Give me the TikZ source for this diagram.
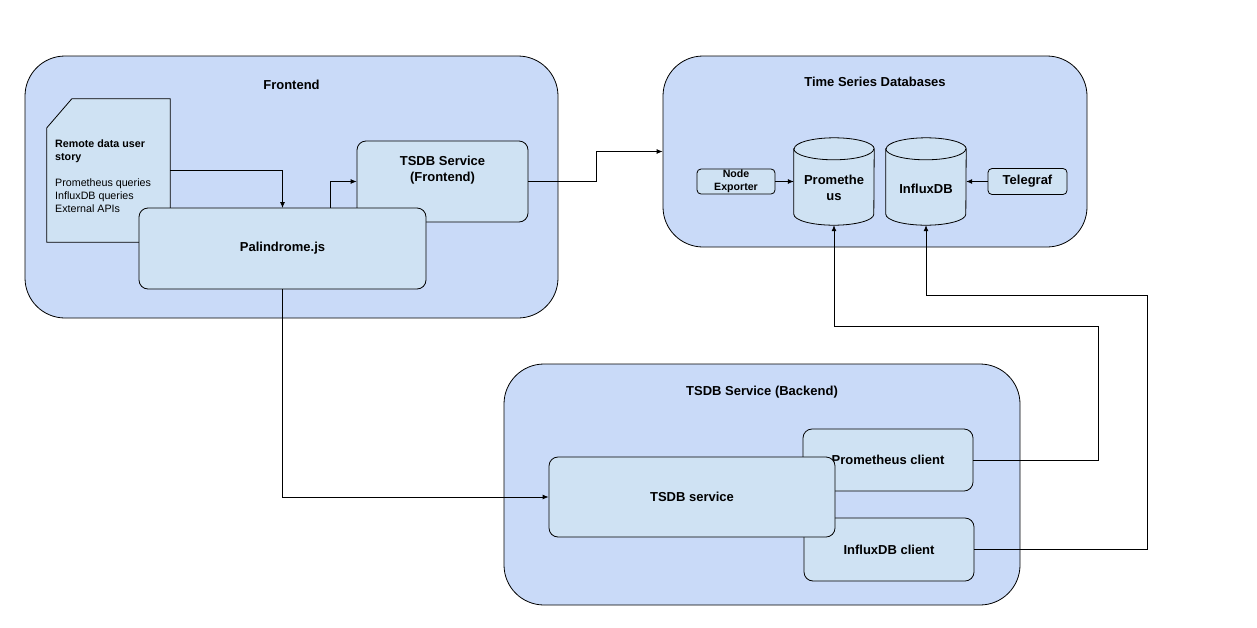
\documentclass[tikz,border=0pt]{standalone}
\usepackage{fontspec}
\setmainfont{Liberation Sans}
\usetikzlibrary{arrows.meta,calc}
\definecolor{contfill}{HTML}{C9DAF8}
\definecolor{boxfill}{HTML}{CFE2F3}
\newcommand\dbcyl[1]{%
  \draw[line width=0.8pt, fill=boxfill]
    ([yshift=-11pt]#1.north west) -- ([yshift=11pt]#1.south west)
    arc[start angle=180,end angle=360,x radius=40pt,y radius=11pt]
    -- ([yshift=-11pt]#1.north east)
    arc[start angle=0,end angle=180,x radius=40pt,y radius=11pt] -- cycle;
  \draw[line width=0.8pt] ([yshift=-11pt]#1.north west)
    arc[start angle=180,end angle=360,x radius=40pt,y radius=11pt];}
\begin{document}
\begin{tikzpicture}[x=1pt,y=-1pt,
  container/.style={draw=black, fill=contfill, rounded corners=40pt, line width=0.8pt, inner sep=0pt},
  box/.style={draw=black, fill=boxfill, rounded corners=9pt, line width=0.8pt, inner sep=0pt},
  smallbox/.style={draw=black, fill=boxfill, rounded corners=4pt, line width=0.8pt, inner sep=0pt},
  ghost/.style={inner sep=0pt, draw=none},
  bigfont/.style={font=\bfseries\fontsize{13}{16}\selectfont},
  lbl/.style={inner sep=0pt, align=center, bigfont},
  slbl/.style={inner sep=0pt, align=center, font=\bfseries\fontsize{10.6}{13}\selectfont},
  arr/.style={line width=0.8pt, -{Latex[length=6pt,width=5pt]}}
]
\useasboundingbox (0,0) rectangle (1257,627);

% ---------- Frontend ----------
\node[container, minimum width=533pt, minimum height=262pt] (fe) at (291.5,187) {};
\node[lbl] (fetitle) at (291.5,85) {Frontend};
\node[ghost, minimum width=123pt, minimum height=143pt] (doc) at (108.5,170.5) {};
\draw[line width=0.8pt, fill=boxfill] ([xshift=25pt]doc.north west) -- (doc.north east) -- (doc.south east) -- (doc.south west) -- ([yshift=-29pt]doc.north west) -- cycle;
\node[inner sep=0pt, anchor=north west, align=left, font=\fontsize{10.7}{13}\selectfont] (doctext) at (55,139.5)
  {\textbf{Remote data user}\\\textbf{story}\\[13pt]Prometheus queries\\InfluxDB queries\\External APIs};
\node[box, minimum width=171pt, minimum height=81pt] (tsdbf) at (442.5,181.5) {};
\node[lbl] (tsdbftext) at (442.5,170) {TSDB Service\\(Frontend)};
\draw[arr] (doc.east) -| (282.5,208);
\node[box, minimum width=287pt, minimum height=81pt, bigfont] (pal) at (282.5,248.5) {Palindrome.js};
\draw[arr] ([xshift=47.5pt]pal.north) |- (tsdbf.west);

% ---------- Time Series Databases ----------
\node[container, minimum width=424pt, minimum height=191pt] (tsdb) at (875,151.5) {};
\node[lbl] (tsdbtitle) at (875,82) {Time Series Databases};
\node[ghost, minimum width=80pt, minimum height=87pt] (prom) at (834,181.5) {};
\dbcyl{prom}
\node[lbl] (promtext) at (834,188) {Promethe\\us};
\node[ghost, minimum width=80pt, minimum height=87pt] (influx) at (926,181.5) {};
\dbcyl{influx}
\node[lbl] (influxtext) at (926,189) {InfluxDB};
\node[smallbox, minimum width=78pt, minimum height=25pt] (nodeexp) at (736,181.5) {};
\node[slbl] (nodeexptext) at (736,181.5) {Node\\Exporter};
\node[smallbox, minimum width=79pt, minimum height=26pt, bigfont] (telegraf) at (1027.5,181.5) {Telegraf};
\draw[arr] (nodeexp.east) -- (prom.west);
\draw[arr] (telegraf.west) -- (influx.east);
\draw[arr] (tsdbf.east) -- ++(68,0) |- (tsdb.west);

% ---------- Backend ----------
\node[container, minimum width=516pt, minimum height=241pt] (be) at (762,484.5) {};
\node[lbl] (betitle) at (762,392) {TSDB Service (Backend)};
\node[box, minimum width=170pt, minimum height=62pt, bigfont] (pc) at (888,460) {Prometheus client};
\node[box, minimum width=170pt, minimum height=63pt, bigfont] (ic) at (889,549.5) {InfluxDB client};
\node[box, minimum width=286pt, minimum height=80pt, bigfont] (svc) at (692,497) {TSDB service};

\draw[arr] (pal.south) |- (svc.west);
\coordinate (pr1) at (1098,326);
\coordinate (ir1) at (1147,295);
\draw[arr] (pc.east) -| (pr1) -| (prom.south);
\draw[arr] (ic.east) -| (ir1) -| (influx.south);
\end{tikzpicture}
\end{document}
